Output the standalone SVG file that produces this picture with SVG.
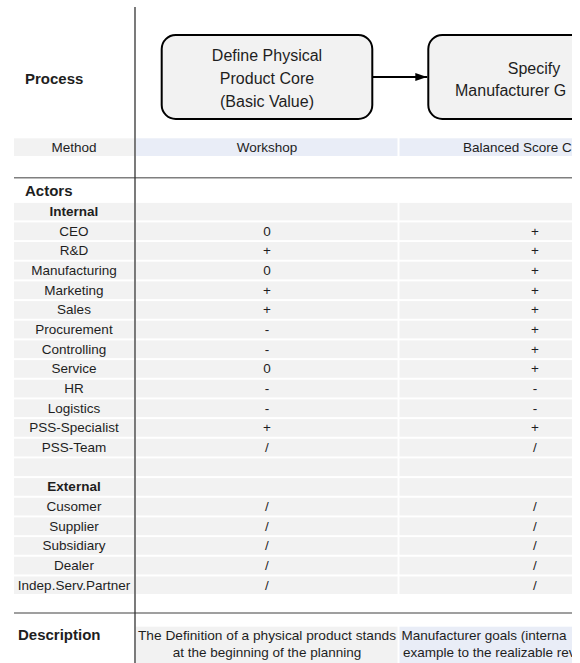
<svg xmlns="http://www.w3.org/2000/svg" width="580" height="663" viewBox="0 0 580 663">
  <style>
    text { font-family: "Liberation Sans", Arial, sans-serif; fill: #1e1e1e; }
    .hd { font-size: 15px; font-weight: bold; }
    .cell { font-size: 13.5px; text-anchor: middle; }
    .sub { font-size: 13.5px; font-weight: bold; text-anchor: middle; }
    .node { fill: #f2f2f2; stroke: #000; stroke-width: 2; }
    .ntext { font-size: 16px; text-anchor: middle; }
    .rule { stroke: #7f7f7f; stroke-width: 1.6; }
    .grey { fill: #f2f2f2; }
    .blue { fill: #e9edf7; }
  </style>
  <defs>
    <!-- alternating row band: 17.7px grey strip, 2px white gap -->
    <pattern id="rows" patternUnits="userSpaceOnUse" x="0" y="202.7" width="580" height="19.67">
      <rect x="0" y="0" width="580" height="17.7" fill="#f2f2f2"/>
    </pattern>
    <clipPath id="edge">
      <rect x="0" y="0" width="572" height="663"/>
    </clipPath>
    <marker id="arrow" markerWidth="12" markerHeight="8" refX="12" refY="4" orient="auto" markerUnits="userSpaceOnUse">
      <path d="M0,0 L12,4 L0,8 Z" fill="#000"/>
    </marker>
  </defs>

  <rect width="580" height="663" fill="#fff"/>

  <!-- row labels -->
  <text class="hd" x="25" y="84">Process</text>

  <!-- method row -->
  <rect class="grey" x="14" y="138.3" width="120.5" height="17.7"/>
  <rect class="blue" x="136" y="138.3" width="261.5" height="17.7"/>
  <rect class="blue" x="399.5" y="138.3" width="172.5" height="17.7"/>
  <text class="cell" x="74" y="152">Method</text>
  <text class="cell" x="267" y="152">Workshop</text>
  <text style="font-size:13.5px" x="463" y="152">Balanced Score C</text>

  <line class="rule" x1="14" y1="177.7" x2="572" y2="177.7"/>
  <text class="hd" x="25" y="196">Actors</text>

  <!-- actor rows -->
  <rect x="14" y="202.7" width="120.5" height="391.4" fill="url(#rows)"/>
  <rect x="136" y="202.7" width="261.5" height="391.4" fill="url(#rows)"/>
  <rect x="399.5" y="202.7" width="172.5" height="391.4" fill="url(#rows)"/>

  <g id="actor-labels">
    <text class="sub" x="74" y="216">Internal</text>
    <text class="cell" x="74" y="235.7">CEO</text>
    <text class="cell" x="74" y="255.4">R&amp;D</text>
    <text class="cell" x="74" y="275">Manufacturing</text>
    <text class="cell" x="74" y="294.7">Marketing</text>
    <text class="cell" x="74" y="314.4">Sales</text>
    <text class="cell" x="74" y="334">Procurement</text>
    <text class="cell" x="74" y="353.7">Controlling</text>
    <text class="cell" x="74" y="373.4">Service</text>
    <text class="cell" x="74" y="393">HR</text>
    <text class="cell" x="74" y="412.7">Logistics</text>
    <text class="cell" x="74" y="432.4">PSS-Specialist</text>
    <text class="cell" x="74" y="452">PSS-Team</text>
    <text class="sub" x="74" y="491.4">External</text>
    <text class="cell" x="74" y="511.1">Cusomer</text>
    <text class="cell" x="74" y="530.7">Supplier</text>
    <text class="cell" x="74" y="550.4">Subsidiary</text>
    <text class="cell" x="74" y="570.1">Dealer</text>
    <text class="cell" x="74" y="589.7">Indep.Serv.Partner</text>
  </g>

  <g id="workshop-values">
    <text class="cell" x="267" y="235.7">0</text>
    <text class="cell" x="267" y="255.4">+</text>
    <text class="cell" x="267" y="275">0</text>
    <text class="cell" x="267" y="294.7">+</text>
    <text class="cell" x="267" y="314.4">+</text>
    <text class="cell" x="267" y="334">-</text>
    <text class="cell" x="267" y="353.7">-</text>
    <text class="cell" x="267" y="373.4">0</text>
    <text class="cell" x="267" y="393">-</text>
    <text class="cell" x="267" y="412.7">-</text>
    <text class="cell" x="267" y="432.4">+</text>
    <text class="cell" x="267" y="452">/</text>
    <text class="cell" x="267" y="511.1">/</text>
    <text class="cell" x="267" y="530.7">/</text>
    <text class="cell" x="267" y="550.4">/</text>
    <text class="cell" x="267" y="570.1">/</text>
    <text class="cell" x="267" y="589.7">/</text>
  </g>

  <g id="scorecard-values">
    <text class="cell" x="535" y="235.7">+</text>
    <text class="cell" x="535" y="255.4">+</text>
    <text class="cell" x="535" y="275">+</text>
    <text class="cell" x="535" y="294.7">+</text>
    <text class="cell" x="535" y="314.4">+</text>
    <text class="cell" x="535" y="334">+</text>
    <text class="cell" x="535" y="353.7">+</text>
    <text class="cell" x="535" y="373.4">+</text>
    <text class="cell" x="535" y="393">-</text>
    <text class="cell" x="535" y="412.7">-</text>
    <text class="cell" x="535" y="432.4">+</text>
    <text class="cell" x="535" y="452">/</text>
    <text class="cell" x="535" y="511.1">/</text>
    <text class="cell" x="535" y="530.7">/</text>
    <text class="cell" x="535" y="550.4">/</text>
    <text class="cell" x="535" y="570.1">/</text>
    <text class="cell" x="535" y="589.7">/</text>
  </g>

  <line class="rule" x1="14" y1="613" x2="572" y2="613"/>

  <!-- description row -->
  <text class="hd" x="18" y="640">Description</text>
  <rect class="grey" x="136" y="626.7" width="261.5" height="36.3"/>
  <rect class="blue" x="399.5" y="626.7" width="172.5" height="36.3"/>
  <text class="cell" x="267" y="640" textLength="258" lengthAdjust="spacingAndGlyphs">The Definition of a physical product stands</text>
  <text class="cell" x="267" y="656.5">at the beginning of the planning</text>
  <g clip-path="url(#edge)">
    <text style="font-size:13.5px" x="401.5" y="640">Manufacturer goals (interna</text>
    <text style="font-size:13.5px" x="403" y="656.5">example to the realizable rev</text>
  </g>

  <!-- column divider -->
  <line x1="135" y1="7" x2="135" y2="663" stroke="#333" stroke-width="1.3"/>

  <!-- process steps -->
  <g id="step-define-core">
    <rect class="node" x="161.7" y="35" width="210.6" height="84" rx="14"/>
    <text class="ntext" x="267" y="61">Define Physical</text>
    <text class="ntext" x="267" y="84">Product Core</text>
    <text class="ntext" x="267" y="107">(Basic Value)</text>
  </g>

  <g id="step-manufacturer-goals" clip-path="url(#edge)">
    <rect class="node" x="428.3" y="35" width="210.6" height="84" rx="14"/>
    <text class="ntext" x="534" y="73.5">Specify</text>
    <text style="font-size:16px" x="455" y="95.5">Manufacturer G</text>
  </g>

  <g id="connectors">
    <line x1="372.3" y1="77" x2="427.3" y2="77" stroke="#000" stroke-width="2" marker-end="url(#arrow)"/>
  </g>
</svg>
